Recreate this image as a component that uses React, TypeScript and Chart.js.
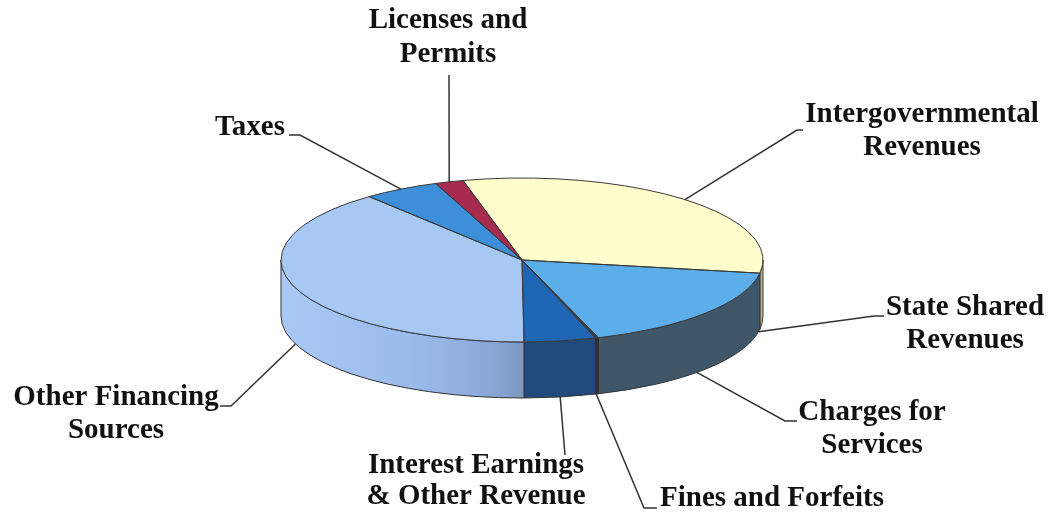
import React, { useEffect, useRef } from "react";
import { Chart, registerables } from "chart.js";

Chart.register(...registerables);

// ---- data ----
const categories = [
  "Licenses and Permits",
  "Intergovernmental Revenues",
  "State Shared Revenues",
  "Charges for Services",
  "Fines and Forfeits",
  "Interest Earnings & Other Revenue",
  "Other Financing Sources",
  "Taxes",
];
const shares = [1.9, 31.5, 17.3, 0.1, 0.1, 4.8, 39.2, 5.1];
const labelLines = [
  ["Licenses and", "Permits"],
  ["Intergovernmental", "Revenues"],
  ["State Shared", "Revenues"],
  ["Charges for", "Services"],
  ["Fines and Forfeits"],
  ["Interest Earnings", "& Other Revenue"],
  ["Other Financing", "Sources"],
  ["Taxes"],
];

// ---- styles ----
const topColors = ["#A62B4F", "#FFFDCB", "#5BAEE9", "#2F4A5E", "#1A2E48", "#1F66B5", "#A6C8F2", "#3D8FD9"];
const sideColors: (string | [number, string][])[] = [
  "#6E1C34",
  "#BDB98F",
  "#3F5669",
  "#2A3D4E",
  "#151F2E",
  "#234A7C",
  [
    [0, "#A9C9F4"],
    [0.55, "#99BBEC"],
    [0.85, "#8AA9DA"],
    [1, "#7C97C0"],
  ],
  "#2A64A0",
];
const Y_RATIO = 82 / 241;
const DEPTH = 56;
const FONT = 'bold 29px "Liberation Serif", "Times New Roman", serif';
const TEXT_STRETCH = 1.05;

// label layout: text centre x, baselines, anchor on the pie, elbow path
type Layout = {
  x: number;
  y: number[];
  anchor: { slice: number; frac: number; rim: "top" | "bottom" };
  path: [number, number][];
};
const layout: Layout[] = [
  { x: 448, y: [28, 62], anchor: { slice: 0, frac: 0.5, rim: "top" }, path: [[449, 75]] },
  { x: 922, y: [122, 155], anchor: { slice: 1, frac: 0.5, rim: "top" }, path: [[797, 130], [803, 130]] },
  { x: 965, y: [315, 348], anchor: { slice: 2, frac: 0.03, rim: "bottom" }, path: [[874, 316], [884, 316]] },
  { x: 872, y: [420, 453], anchor: { slice: 2, frac: 0.55, rim: "bottom" }, path: [[785, 421], [797, 421]] },
  { x: 772, y: [506], anchor: { slice: 4, frac: 0.5, rim: "bottom" }, path: [[644, 508], [657, 508]] },
  { x: 476, y: [473, 504], anchor: { slice: 5, frac: 0.5, rim: "bottom" }, path: [[565, 455]] },
  { x: 116, y: [405, 438], anchor: { slice: 6, frac: 0.5, rim: "bottom" }, path: [[231, 406], [220, 406]] },
  { x: 250, y: [135], anchor: { slice: 7, frac: 0.5, rim: "top" }, path: [[300, 135], [289, 135]] },
];

function geom(chart: any) {
  const arcs = chart.getDatasetMeta(0).data.map((a: any) =>
    a.getProps(["x", "y", "startAngle", "endAngle", "outerRadius"], true)
  );
  const cx = arcs[0].x;
  const cy = arcs[0].y;
  const R = arcs[0].outerRadius;
  return { arcs, cx, cy, R, ry: R * Y_RATIO };
}

const pie3d = {
  id: "pie3d",
  beforeDatasetsDraw(chart: any) {
    const ctx: CanvasRenderingContext2D = chart.ctx;
    const { arcs, cx, cy, R, ry } = geom(chart);
    ctx.save();
    arcs.forEach((arc: any, i: number) => {
      const s = arc.startAngle;
      const e = arc.endAngle;
      for (let n = -1; n <= 2; n++) {
        const lo = Math.max(s, 2 * Math.PI * n);
        const hi = Math.min(e, 2 * Math.PI * n + Math.PI);
        if (hi - lo <= 1e-6) continue;
        ctx.beginPath();
        ctx.ellipse(cx, cy, R, ry, 0, lo, hi, false);
        ctx.lineTo(cx + R * Math.cos(hi), cy + DEPTH + ry * Math.sin(hi));
        ctx.ellipse(cx, cy + DEPTH, R, ry, 0, hi, lo, true);
        ctx.closePath();
        const sc = sideColors[i];
        if (typeof sc === "string") {
          ctx.fillStyle = sc;
        } else {
          const x1 = cx + R * Math.cos(hi);
          const x2 = cx + R * Math.cos(lo);
          const g = ctx.createLinearGradient(Math.min(x1, x2), 0, Math.max(x1, x2), 0);
          sc.forEach(([o, c]) => g.addColorStop(o, c));
          ctx.fillStyle = g;
        }
        ctx.fill();
        ctx.strokeStyle = "#333";
        ctx.lineWidth = 1;
        ctx.stroke();
      }
    });
    ctx.restore();
    ctx.save();
    ctx.translate(0, cy);
    ctx.scale(1, Y_RATIO);
    ctx.translate(0, -cy);
  },
  afterDatasetsDraw(chart: any) {
    const ctx: CanvasRenderingContext2D = chart.ctx;
    ctx.restore();
    const { arcs, cx, cy, R, ry } = geom(chart);
    ctx.save();
    ctx.strokeStyle = "#3a3a3a";
    ctx.lineWidth = 1;
    arcs.forEach((arc: any) => {
      ctx.beginPath();
      ctx.moveTo(cx, cy);
      ctx.lineTo(cx + R * Math.cos(arc.startAngle), cy + ry * Math.sin(arc.startAngle));
      ctx.ellipse(cx, cy, R, ry, 0, arc.startAngle, arc.endAngle, false);
      ctx.closePath();
      ctx.stroke();
    });
    ctx.restore();
  },
  afterDraw(chart: any) {
    const ctx: CanvasRenderingContext2D = chart.ctx;
    const { arcs, cx, cy, R, ry } = geom(chart);
    ctx.save();
    layout.forEach((l, i) => {
      const arc = arcs[l.anchor.slice];
      const a = arc.startAngle + (arc.endAngle - arc.startAngle) * l.anchor.frac;
      const ax = cx + R * Math.cos(a);
      const ay = cy + ry * Math.sin(a) + (l.anchor.rim === "bottom" ? DEPTH : 0);
      ctx.beginPath();
      ctx.moveTo(ax, ay);
      l.path.forEach(([px, py]) => ctx.lineTo(px, py));
      ctx.strokeStyle = "#333";
      ctx.lineWidth = 1.5;
      ctx.stroke();
      ctx.font = FONT;
      ctx.fillStyle = "#111";
      ctx.textAlign = "center";
      ctx.textBaseline = "alphabetic";
      labelLines[i].forEach((t, j) => {
        ctx.save();
        ctx.translate(l.x, l.y[j]);
        ctx.scale(1, TEXT_STRETCH);
        ctx.fillText(t, 0, 0);
        ctx.restore();
      });
    });
    ctx.restore();
  },
};

export default function App() {
  const ref = useRef<HTMLCanvasElement>(null);
  useEffect(() => {
    if (!ref.current) return;
    const chart = new Chart(ref.current, {
      type: "pie",
      data: {
        labels: categories,
        datasets: [
          {
            data: shares,
            backgroundColor: topColors,
            borderWidth: 0,
            hoverOffset: 0,
            clip: false as any,
          },
        ],
      },
      options: {
        responsive: false,
        animation: false,
        rotation: -21,
        events: [],
        layout: { padding: { left: 281, right: 286, top: 19, bottom: 15 } },
        plugins: { legend: { display: false }, tooltip: { enabled: false } },
      },
      plugins: [pie3d as any],
    });
    return () => chart.destroy();
  }, []);
  return (
    <div style={{ position: "fixed", left: 0, top: 0, width: 1049, height: 516, background: "#fff" }}>
      <canvas ref={ref} width={1049} height={516} style={{ display: "block" }} />
    </div>
  );
}
